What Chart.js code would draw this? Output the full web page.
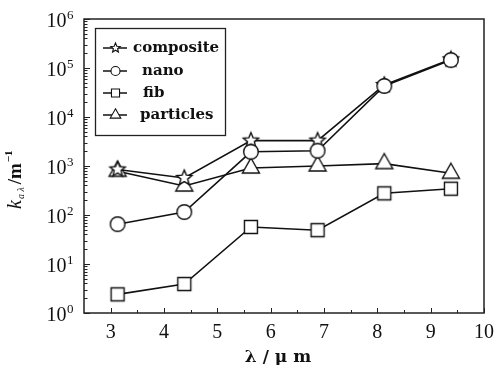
<!DOCTYPE html>
<html><head><meta charset="utf-8">
<script src="https://cdn.jsdelivr.net/npm/chart.js@4.4.1/dist/chart.umd.min.js"></script>
<style>html,body{margin:0;padding:0;background:#fff}canvas{display:block}</style>
</head><body>
<canvas id="c" width="496" height="365" style="width:496px;height:365px"></canvas>
<script>
const wavelengths = [3.13, 4.38, 5.63, 6.88, 8.13, 9.38];
const seriesNames = ['composite', 'nano', 'fib', 'particles'];
const composite = [850, 570, 3300, 3300, 45000, 150000];
const nano = [65, 115, 1950, 2050, 43000, 145000];
const fib = [2.4, 3.9, 57, 49, 277, 344];
const particles = [780, 390, 910, 1000, 1120, 710];
const xTicks = [3, 4, 5, 6, 7, 8, 9, 10];
const yExponents = [0, 1, 2, 3, 4, 5, 6];

function shapePath(ctx, type, cx, cy, s) {
  ctx.beginPath();
  if (type === 'circle') {
    ctx.arc(cx, cy, 7.3 * s, 0, Math.PI * 2);
  } else if (type === 'square') {
    const h = 6.5 * s;
    ctx.rect(cx - h, cy - h, 2 * h, 2 * h);
  } else if (type === 'triangle') {
    const w = 8.5 * s, hgt = 15 * s;
    ctx.moveTo(cx, cy - hgt * 2 / 3);
    ctx.lineTo(cx + w, cy + hgt / 3);
    ctx.lineTo(cx - w, cy + hgt / 3);
    ctx.closePath();
  } else if (type === 'star') {
    const R = 8 * s, r = 3.6 * s;
    for (let i = 0; i < 10; i++) {
      const a = -Math.PI / 2 + i * Math.PI / 5;
      const rr = i % 2 === 0 ? R : r;
      const px = cx + rr * Math.cos(a), py = cy + rr * Math.sin(a);
      if (i === 0) ctx.moveTo(px, py); else ctx.lineTo(px, py);
    }
    ctx.closePath();
  }
}
function makeMarker(type, s) {
  const c = document.createElement('canvas');
  c.width = 24; c.height = 24;
  const ctx = c.getContext('2d');
  shapePath(ctx, type, 12, 12, s);
  ctx.fillStyle = '#fff';
  ctx.fill();
  ctx.lineWidth = 1.4;
  ctx.strokeStyle = '#111';
  ctx.stroke();
  return c;
}
const markerTypes = ['star', 'circle', 'square', 'triangle'];
const seriesData = [composite, nano, fib, particles];
const drawOrder = [1, 0, 3, 2];

const datasets = seriesNames.map((name, i) => ({
  label: name,
  data: wavelengths.map((x, j) => ({ x: x, y: seriesData[i][j] })),
  borderColor: '#111',
  borderWidth: 1.6,
  pointStyle: makeMarker(markerTypes[i], 1),
  pointRadius: 8,
  pointHoverRadius: 8,
  order: drawOrder[i],
  tension: 0,
  fill: false
}));

const decorPlugin = {
  id: 'decor',
  afterDraw(chart) {
    const ctx = chart.ctx;
    const a = chart.chartArea;
    const xs = chart.scales.x, ys = chart.scales.y;
    ctx.save();
    // frame
    ctx.strokeStyle = '#222';
    ctx.lineWidth = 1.5;
    ctx.strokeRect(a.left, a.top, a.right - a.left, a.bottom - a.top);
    // y ticks (inward)
    ctx.lineWidth = 1;
    ctx.strokeStyle = '#222';
    ctx.beginPath();
    yExponents.forEach(e => {
      const y = Math.round(ys.getPixelForValue(Math.pow(10, e))) + 0.5;
      ctx.moveTo(a.left, y); ctx.lineTo(a.left + 6, y);
      if (e < yExponents[yExponents.length - 1]) {
        for (let m = 2; m <= 9; m++) {
          const ym = Math.round(ys.getPixelForValue(m * Math.pow(10, e))) + 0.5;
          ctx.moveTo(a.left, ym); ctx.lineTo(a.left + 3.5, ym);
        }
      }
    });
    // x ticks (inward)
    xTicks.forEach((t, i) => {
      const x = Math.round(xs.getPixelForValue(t)) + 0.5;
      ctx.moveTo(x, a.bottom); ctx.lineTo(x, a.bottom - 5);
      if (i < xTicks.length - 1) {
        const xm = Math.round(xs.getPixelForValue(t + 0.5)) + 0.5;
        ctx.moveTo(xm, a.bottom); ctx.lineTo(xm, a.bottom - 3);
      }
    });
    ctx.stroke();
    // y tick labels 10^e
    ctx.fillStyle = '#111';
    yExponents.forEach(e => {
      const y = ys.getPixelForValue(Math.pow(10, e));
      ctx.font = '20px "Liberation Serif"';
      ctx.textAlign = 'right';
      ctx.textBaseline = 'alphabetic';
      ctx.fillText('10', 66.5, y + 7.5);
      ctx.font = '13px "Liberation Serif"';
      ctx.textAlign = 'left';
      ctx.fillText(String(e), 67, y);
    });
    // x tick labels
    ctx.font = '20px "Liberation Serif"';
    ctx.textAlign = 'center';
    xTicks.forEach(t => {
      ctx.fillText(String(t), xs.getPixelForValue(t), 337.5);
    });
    // x title
    ctx.font = 'bold 17px "DejaVu Serif"';
    ctx.fillText('λ / μ m', 278, 362);
    // y title (rotated)
    ctx.translate(21, 209);
    ctx.rotate(-Math.PI / 2);
    ctx.textAlign = 'left';
    let cx = 0;
    ctx.font = 'italic 20px "Liberation Serif"';
    ctx.fillText('k', cx, 0); cx += ctx.measureText('k').width + 1;
    ctx.font = 'italic 10px "Liberation Serif"';
    ctx.fillText('a λ', cx, 3); cx += ctx.measureText('a λ').width + 3;
    ctx.font = 'bold 19px "Liberation Serif"';
    ctx.fillText('/m', cx, 0); cx += ctx.measureText('/m').width + 1;
    ctx.font = 'bold 11px "Liberation Serif"';
    ctx.fillText('−1', cx, -9);
    ctx.setTransform(1, 0, 0, 1, 0, 0);
    // legend
    const L = { left: 95.5, top: 28.5, right: 225.5, bottom: 135.5 };
    ctx.fillStyle = '#fff';
    ctx.fillRect(L.left, L.top, L.right - L.left, L.bottom - L.top);
    ctx.strokeStyle = '#222';
    ctx.lineWidth = 1.3;
    ctx.strokeRect(L.left, L.top, L.right - L.left, L.bottom - L.top);
    const rows = [48, 71, 93, 115];
    const textX = [133, 142, 143, 140];
    seriesNames.forEach((name, i) => {
      const y = rows[i];
      ctx.strokeStyle = '#111';
      ctx.lineWidth = 1.5;
      ctx.beginPath();
      ctx.moveTo(103, y); ctx.lineTo(127, y);
      ctx.stroke();
      shapePath(ctx, markerTypes[i], 115.5, y, 0.62);
      ctx.fillStyle = '#fff';
      ctx.fill();
      ctx.lineWidth = 1.1;
      ctx.stroke();
      ctx.fillStyle = '#111';
      ctx.font = 'bold 15px "DejaVu Serif"';
      ctx.textAlign = 'left';
      ctx.textBaseline = 'middle';
      ctx.fillText(name, textX[i], y);
    });
    ctx.restore();
  }
};

new Chart(document.getElementById('c'), {
  type: 'line',
  data: { datasets: datasets },
  options: {
    responsive: false,
    animation: false,
    devicePixelRatio: 1,
    layout: { padding: { top: 19, right: 12, left: 0, bottom: 0 } },
    plugins: { legend: { display: false }, tooltip: { enabled: false } },
    scales: {
      x: {
        type: 'linear', min: 2.5, max: 10,
        grid: { display: false, drawTicks: false },
        border: { display: false },
        ticks: { display: false },
        afterBuildTicks: s => { s.ticks = xTicks.map(v => ({ value: v })); },
        afterFit: s => { s.height = 52; }
      },
      y: {
        type: 'logarithmic', min: 1, max: 1e6,
        grid: { display: false, drawTicks: false },
        border: { display: false },
        ticks: { display: false },
        afterBuildTicks: s => { s.ticks = yExponents.map(e => ({ value: Math.pow(10, e) })); },
        afterFit: s => { s.width = 84; }
      }
    }
  },
  plugins: [decorPlugin]
});
</script>
</body></html>
